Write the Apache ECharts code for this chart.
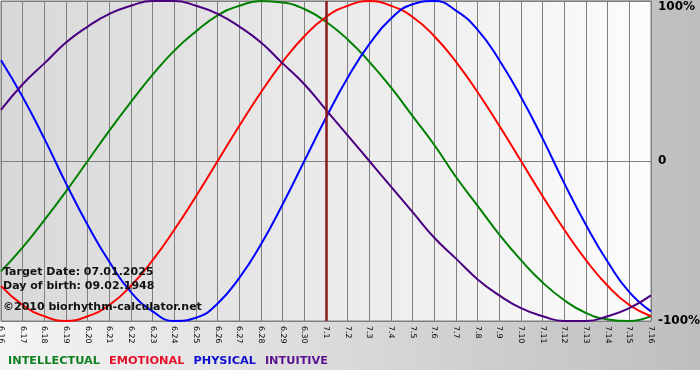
<!DOCTYPE html>
<html>
<head>
<meta charset="utf-8">
<script src="https://cdn.jsdelivr.net/npm/echarts@6/dist/echarts.min.js"></script>
<style>
html,body{margin:0;padding:0;background:#fff;}
#chart{width:700px;height:380px;background-color:#fff;background-image:linear-gradient(to right,#f4f4f4,#bebebe);background-size:700px 370px;background-repeat:no-repeat;}
</style>
</head>
<body>
<div id="chart"></div>
<script>
var days = ['6.16','6.17','6.18','6.19','6.20','6.21','6.22','6.23','6.24','6.25','6.26','6.27','6.28','6.29','6.30',
            '7.1','7.2','7.3','7.4','7.5','7.6','7.7','7.8','7.9','7.10','7.11','7.12','7.13','7.14','7.15','7.16'];
var intellectual = [-69,-54,-37,-19,0,19,37,54,69,81,91,97,100,99,95,87,76,62,46,28,10,-10,-28,-46,-62,-76,-87,-95,-99,-100,-97];
var emotional    = [-78,-90,-97,-100,-97,-90,-78,-62,-43,-22,0,22,43,62,78,90,97,100,97,90,78,62,43,22,0,-22,-43,-62,-78,-90,-97];
var physical     = [63,40,14,-14,-40,-63,-82,-94,-100,-98,-89,-73,-52,-27,0,27,52,73,89,98,100,94,82,63,40,14,-14,-40,-63,-82,-94];
var intuitive    = [32,48,61,74,84,92,97,100,100,97,92,84,74,61,48,32,16,0,-16,-32,-48,-61,-74,-84,-92,-97,-100,-100,-97,-92,-84];
var seriesNames  = ['INTELLECTUAL','EMOTIONAL','PHYSICAL','INTUITIVE'];
var seriesColors = ['#008000','#ff0000','#0000ff','#4b0082'];
var legendColors = ['#108020','#e8102a','#1010d0','#5a1290'];
var targetDay = '7.1';
var infoLines = ['Target Date: 07.01.2025','Day of birth: 09.02.1948','\u00a92010 biorhythm-calculator.net'];
var yTicks = {min:-100, max:100, step:100};

var chart = echarts.init(document.getElementById('chart'), null, {renderer:'canvas'});
var dataSets = [intellectual, emotional, physical, intuitive];
var series = dataSets.map(function(d, i){
  var s = {
    name: seriesNames[i], type:'line', data:d, smooth:true, symbol:'none',
    lineStyle:{color:seriesColors[i], width:2}, itemStyle:{color:seriesColors[i]},
    emphasis:{disabled:true}, animation:false, z: 3
  };
  if (i === 0) {
    s.markLine = {
      silent:true, symbol:'none', label:{show:false}, animation:false,
      lineStyle:{color:'#8b1a1a', width:2.5, type:'solid'},
      data:[{xAxis:targetDay}]
    };
  }
  return s;
});
var option = {
  animation:false,
  backgroundColor:'transparent',
  grid:{left:1, right:49, top:1, bottom:59, show:true, outerBoundsMode:'none', containLabel:false,
    backgroundColor:{type:'linear',x:0,y:0,x2:1,y2:0,colorStops:[{offset:0,color:'#d8d8d8'},{offset:1,color:'#fcfcfc'}]},
    borderColor:'#808080', borderWidth:1},
  xAxis:{type:'category', data:days, boundaryGap:false,
    axisLine:{show:true, lineStyle:{color:'#808080', width:1}},
    axisTick:{show:true, length:3, interval:0, lineStyle:{color:'#808080'}},
    splitLine:{show:true, interval:0, lineStyle:{color:'#808080', width:1}},
    axisLabel:{show:true, interval:0, rotate:-90, margin:5, color:'#000', fontFamily:'DejaVu Sans', fontSize:7.8}
  },
  yAxis:{type:'value', position:'right', min:yTicks.min, max:yTicks.max, interval:yTicks.step,
    axisLine:{show:false}, axisTick:{show:false},
    splitLine:{show:true, lineStyle:{color:'#808080', width:1}},
    axisLabel:{margin:7, color:'#000', fontFamily:'DejaVu Sans', fontWeight:'bold', fontSize:12,
      formatter:function(v){ if(v===0) return '0'; if(v===yTicks.max) return '{t|'+v+'%}'; return v+'%'; },
      rich:{t:{padding:[12,0,0,0], fontFamily:'DejaVu Sans', fontWeight:'bold', fontSize:12, color:'#000'}}
    }
  },
  legend:{left:3, top:355, icon:'none', itemWidth:0, itemHeight:12, itemGap:4, padding:[0,0,0,0],
    selectedMode:false,
    textStyle:{fontFamily:'DejaVu Sans', fontWeight:'bold', fontSize:11.3, padding:[0,0,0,0]},
    data: seriesNames.map(function(n,i){ return {name:n, textStyle:{color:legendColors[i]}}; })
  },
  graphic: infoLines.map(function(t, i){
    return {type:'text', left:3, top:[267,281,302][i], z:10, silent:true,
      style:{text:t, fill:'#111', font:'bold 11px "DejaVu Sans"'}};
  }),
  series: series
};
chart.setOption(option);
</script>
</body>
</html>
